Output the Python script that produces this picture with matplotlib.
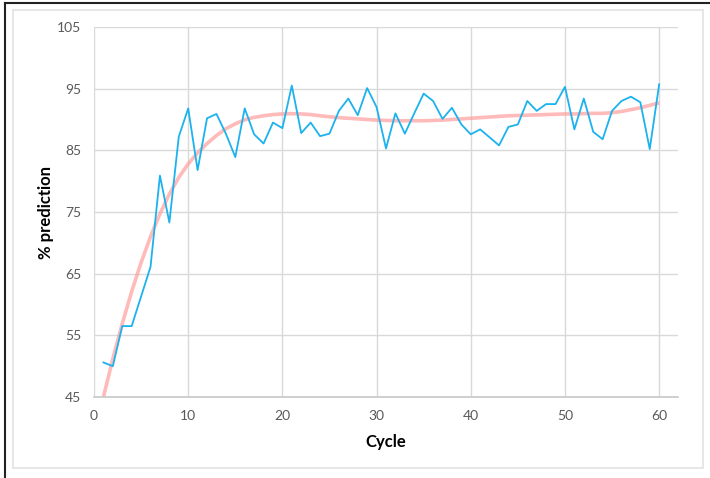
import numpy as np
import matplotlib
matplotlib.use("Agg")
import matplotlib.pyplot as plt
from matplotlib.patches import Rectangle
from matplotlib.lines import Line2D

cycles = list(range(1, 61))
prediction = [50.6, 50.0, 56.5, 56.5, 61.3, 66.1, 80.9, 73.3, 87.2, 91.8,
              81.8, 90.2, 90.9, 87.7, 83.9, 91.8, 87.6, 86.1, 89.5, 88.6,
              95.5, 87.8, 89.5, 87.3, 87.7, 91.4, 93.4, 90.7, 95.1, 92.0,
              85.3, 91.0, 87.7, 91.0, 94.2, 93.0, 90.1, 91.9, 89.2, 87.6,
              88.4, 87.1, 85.8, 88.8, 89.2, 93.0, 91.4, 92.5, 92.5, 95.3,
              88.4, 93.4, 88.0, 86.8, 91.4, 93.0, 93.7, 92.8, 85.2, 95.7]
# trend line at each cycle
trend = [45.0, 51.2, 56.9, 62.1, 66.8, 71.0, 74.7, 77.9, 80.6, 82.8,
         84.6, 86.1, 87.4, 88.5, 89.3, 89.95, 90.35, 90.6, 90.8, 90.9,
         90.95, 90.9, 90.8, 90.6, 90.45, 90.3, 90.2, 90.1, 90.0, 89.9,
         89.85, 89.8, 89.8, 89.8, 89.8, 89.85, 89.9, 90.0, 90.1, 90.2,
         90.3, 90.4, 90.5, 90.6, 90.65, 90.7, 90.75, 90.8, 90.85, 90.9,
         90.9, 90.95, 91.0, 91.0, 91.1, 91.3, 91.6, 91.9, 92.3, 92.7]
x_ticks = [0, 10, 20, 30, 40, 50, 60]
y_ticks = [45, 55, 65, 75, 85, 95, 105]

plt.rcParams["font.family"] = ["Lato", "DejaVu Sans"]

fig = plt.figure(figsize=(7.1, 4.78), dpi=100)
ax = fig.add_axes([94 / 710, 1 - 397 / 478, (678 - 94) / 710, (397 - 27) / 478])

ax.plot(cycles, trend, color="#ff9d9d", lw=2.6, alpha=0.7, zorder=2,
        solid_capstyle="butt")
ax.plot(cycles, prediction, color="#1cb2ee", lw=1.3, zorder=3)

ax.set_xlim(0, 62)
ax.set_ylim(45, 105)
ax.set_xticks(x_ticks)
ax.set_yticks(y_ticks)
ax.grid(True, color="#d9d9d9", lw=1)
ax.set_axisbelow(True)
for side in ["top", "right", "left"]:
    ax.spines[side].set_visible(False)
ax.spines["bottom"].set_color("#c8c8c8")
ax.spines["bottom"].set_linewidth(1.2)
ax.tick_params(length=0, labelsize=10, labelcolor="#595959", pad=9)

ax.set_xlabel("Cycle", fontsize=12, fontweight="bold", labelpad=9)
ax.set_ylabel("% prediction", fontsize=12, fontweight="bold", labelpad=2)

# chart frame and outer border
fig.patches.append(Rectangle((13 / 710, 1 - 468 / 478), 690 / 710, 458 / 478,
                             transform=fig.transFigure, fill=False,
                             edgecolor="#e3e3e3", lw=1.2))
fig.lines.append(Line2D([5 / 710, 5 / 710], [0, 1 - 3 / 478],
                        transform=fig.transFigure, color="#222222", lw=1.5))
fig.lines.append(Line2D([5 / 710, 1], [1 - 3 / 478, 1 - 3 / 478],
                        transform=fig.transFigure, color="#222222", lw=1.5))

fig.savefig("out.png", dpi=100)
